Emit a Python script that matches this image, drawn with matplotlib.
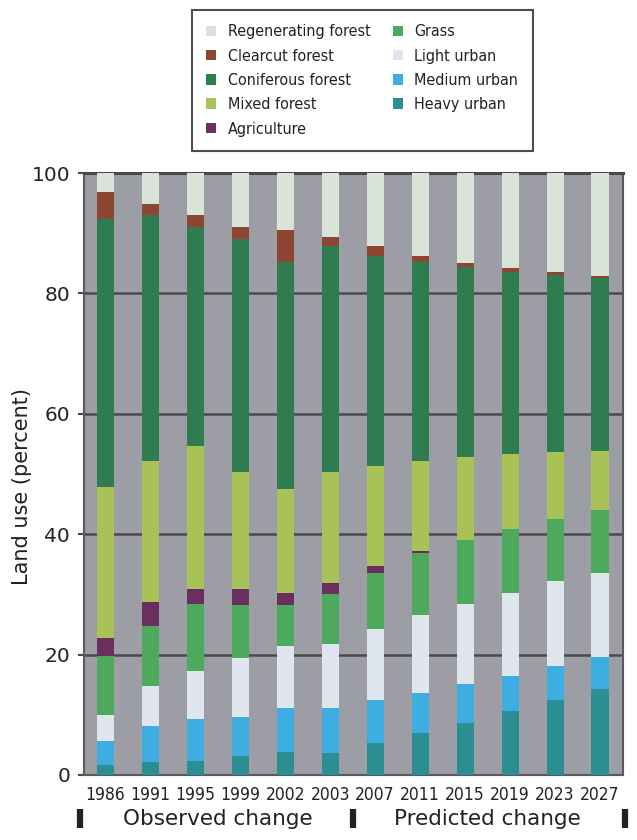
import matplotlib
matplotlib.use("Agg")
import matplotlib.pyplot as plt
from matplotlib.patches import Patch
from matplotlib import font_manager
import numpy as np

years = ["1986", "1991", "1995", "1999", "2002", "2003", "2007", "2011", "2015", "2019", "2023", "2027"]

heavy_urban   = [1.7, 2.1, 2.4, 3.2, 3.9, 3.7, 5.3, 6.9, 8.7, 10.6, 12.5, 14.3]
medium_urban  = [4.0, 6.1, 6.9, 6.5, 7.3, 7.4, 7.2, 6.8, 6.4, 5.8, 5.6, 5.3]
light_urban   = [4.3, 6.6, 7.9, 9.7, 10.2, 10.6, 11.7, 12.8, 13.3, 13.9, 14.1, 14.0]
grass         = [9.7, 10.0, 11.2, 8.9, 6.9, 8.3, 9.4, 10.3, 10.7, 10.5, 10.4, 10.4]
agriculture   = [3.1, 3.9, 2.5, 2.6, 2.0, 1.9, 1.2, 0.4, 0.0, 0.0, 0.0, 0.0]
mixed_forest  = [25.1, 23.5, 23.7, 19.5, 17.2, 18.4, 16.5, 15.0, 13.7, 12.5, 11.0, 9.9]
coniferous    = [44.4, 40.9, 36.5, 38.6, 37.8, 37.5, 35.0, 33.1, 31.6, 30.3, 29.5, 28.7]
clearcut      = [4.6, 1.8, 2.0, 2.1, 5.3, 1.5, 1.5, 1.0, 0.7, 0.7, 0.5, 0.3]
regenerating  = [3.1, 5.1, 6.9, 8.9, 9.4, 10.7, 12.2, 13.7, 14.9, 15.7, 16.4, 17.1]

series = [
    ("Heavy urban", heavy_urban, "#2b8e93"),
    ("Medium urban", medium_urban, "#3eaee2"),
    ("Light urban", light_urban, "#dfe6ee"),
    ("Grass", grass, "#4da95c"),
    ("Agriculture", agriculture, "#6a2f60"),
    ("Mixed forest", mixed_forest, "#a9c257"),
    ("Coniferous forest", coniferous, "#2e7c50"),
    ("Clearcut forest", clearcut, "#8c4632"),
    ("Regenerating forest", regenerating, "#d9e3d8"),
]

# pick a narrow font if available
names = set(f.name for f in font_manager.fontManager.ttflist)
if "Liberation Sans Narrow" in names:
    narrow_family, narrow_stretch = "Liberation Sans Narrow", "normal"
else:
    narrow_family, narrow_stretch = "DejaVu Sans", "condensed"

def nprops(size):
    return font_manager.FontProperties(family=narrow_family, stretch=narrow_stretch, size=size)

fig = plt.figure(figsize=(6.37, 8.4), dpi=100)
ax = fig.add_axes([0.132, 0.0774, 0.846, 0.7166])
ax.set_facecolor("#9d9da5")

x = np.arange(len(years))
bottom = np.zeros(len(years))
handles = {}
for name, vals, col in series:
    v = np.array(vals)
    ax.bar(x, v, bottom=bottom, width=0.38, color=col, zorder=3, linewidth=0)
    handles[name] = Patch(facecolor=col, edgecolor="none")
    bottom += v

ax.set_xlim(-0.47, 11.51)
ax.set_ylim(0, 100)
ax.set_yticks([0, 20, 40, 60, 80, 100])
ax.yaxis.grid(True, color="#4a4a4e", linewidth=1.8, zorder=1)
ax.set_axisbelow(True)
for s in ax.spines.values():
    s.set_color("#5a5a5e")
    s.set_linewidth(1.5)
ax.spines["top"].set_linewidth(2.2)
ax.spines["top"].set_color("#4a4a4e")

ax.set_xticks(x)
ax.set_xticklabels(years, color="#222222")
for lab in ax.get_xticklabels():
    lab.set_fontproperties(nprops(12.5))
ax.tick_params(axis="x", length=0, pad=8)
ax.tick_params(axis="y", length=4, width=1.5, color="#4a4a4e", labelsize=14.5, labelcolor="#222222", pad=6)

ax.set_ylabel("Land use (percent)", fontsize=15, color="#222222")
ax.yaxis.set_label_coords(-0.097, 0.48)

# bottom annotations
trans = ax.get_xaxis_transform()
for xb in [-0.55, 5.5, 11.56]:
    ax.plot([xb, xb], [-0.057, -0.088], transform=trans, color="#222222", linewidth=4.5,
            clip_on=False, solid_capstyle="butt")
ax.text(2.5, -0.073, "Observed change", transform=trans, ha="center", va="center",
        fontsize=15.5, color="#222222")
ax.text(8.5, -0.073, "Predicted change", transform=trans, ha="center", va="center",
        fontsize=15.5, color="#222222")

# legend
order = ["Regenerating forest", "Clearcut forest", "Coniferous forest", "Mixed forest", "Agriculture",
         "Grass", "Light urban", "Medium urban", "Heavy urban"]
leg = fig.legend([handles[n] for n in order], order, ncol=2,
                 loc="upper left", bbox_to_anchor=(0.301, 0.988), borderaxespad=0,
                 prop=nprops(11.5),
                 frameon=True, fancybox=False, edgecolor="#222222",
                 handlelength=0.65, handleheight=0.65, handletextpad=0.7,
                 columnspacing=1.4, labelspacing=0.58, borderpad=0.9)
leg.get_frame().set_linewidth(1.5)
for t in leg.get_texts():
    t.set_color("#222222")

fig.savefig("out.png", dpi=100)
